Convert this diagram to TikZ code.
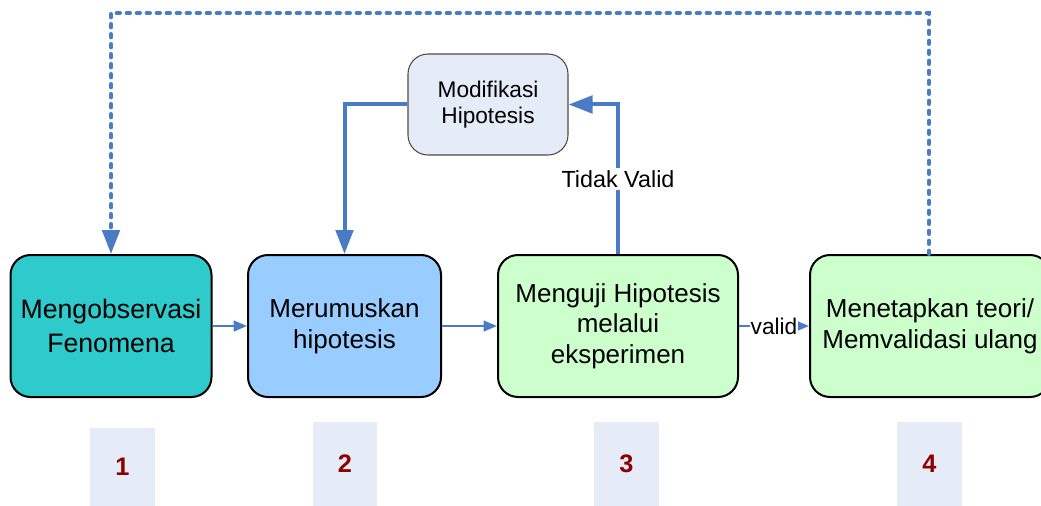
\documentclass[tikz,border=0pt]{standalone}
\usepackage{fontspec}
\setmainfont{Liberation Sans}
\usetikzlibrary{arrows.meta}
\definecolor{lnc}{HTML}{4A7BC6}
\definecolor{teal1}{HTML}{2ECACC}
\definecolor{blue1}{HTML}{99CCFF}
\definecolor{green1}{HTML}{CCFFCC}
\definecolor{pale}{HTML}{E6ECF7}
\definecolor{numc}{HTML}{8B0000}
\tikzset{
  box/.style={draw=black, line width=1.5pt, rounded corners=15pt, align=center, font=\fontsize{19.5}{23}\selectfont, inner sep=0pt},
  numbox/.style={fill=pale, draw=none, font=\bfseries\fontsize{19}{22}\selectfont, text=numc},
  conn/.style={draw=lnc, line width=1.6pt, -{Triangle[length=10pt,width=8pt]}},
  thickconn/.style={draw=lnc, line width=3pt, -{Triangle[length=18pt,width=13pt]}},
  dotconn/.style={draw=lnc, line width=3pt, line cap=round, dash pattern=on 2.5pt off 5pt, -{Triangle[length=18pt,width=13pt]}},
}
\begin{document}
\begin{tikzpicture}[x=0.75pt,y=-0.75pt]
\useasboundingbox (0,0) rectangle (1041,506);
\node[box, fill=teal1, minimum width=201*0.75pt, minimum height=142*0.75pt, font=\fontsize{20}{25.5}\selectfont] (b1) at (111,326) {Mengobservasi\\Fenomena};
\node[box, fill=blue1, minimum width=193*0.75pt, minimum height=142*0.75pt] (b2) at (344.5,326) {Merumuskan\\hipotesis};
\node[box, fill=green1, minimum width=240*0.75pt, minimum height=142*0.75pt] (b3) at (618,326) {Menguji Hipotesis\\melalui\\eksperimen};
\node[box, fill=green1, minimum width=240*0.75pt, minimum height=142*0.75pt] (b4) at (930,326) {Menetapkan teori/\\Memvalidasi ulang};
\node[draw=black!70, line width=0.8pt, fill=pale, rounded corners=15pt, align=center, font=\fontsize{17}{19.5}\selectfont, minimum width=160*0.75pt, minimum height=101*0.75pt, inner sep=0pt] (mod) at (488,104.5) {Modifikasi\\Hipotesis};
\node[numbox, minimum width=65*0.75pt, minimum height=78*0.75pt] (n1) at (122.5,467) {1};
\node[numbox, minimum width=64*0.75pt, minimum height=84*0.75pt] (n2) at (345,464) {2};
\node[numbox, minimum width=65*0.75pt, minimum height=84*0.75pt] (n3) at (626.5,464) {3};
\node[numbox, minimum width=65*0.75pt, minimum height=84*0.75pt] (n4) at (929.5,464) {4};
\draw[conn] (b1.east) -- (b2.west);
\draw[conn] (b2.east) -- (b3.west);
\draw[conn] (b3.east) -- node[fill=white, inner sep=0.5pt, font=\fontsize{17}{19}\selectfont] {valid} (b4.west);
\draw[thickconn] (mod.west) -| (b2.north);
\draw[thickconn] (b3.north) |- node[pos=0.25, fill=white, inner sep=2pt, font=\fontsize{17.5}{20}\selectfont] {Tidak Valid} (mod.east);
\coordinate (c1) at (929,13);
\coordinate (c2) at (111,13);
\draw[dotconn] ([xshift=-0.75pt]b4.north) -- (c1) -- (c2) -- (b1.north);
\end{tikzpicture}
\end{document}
